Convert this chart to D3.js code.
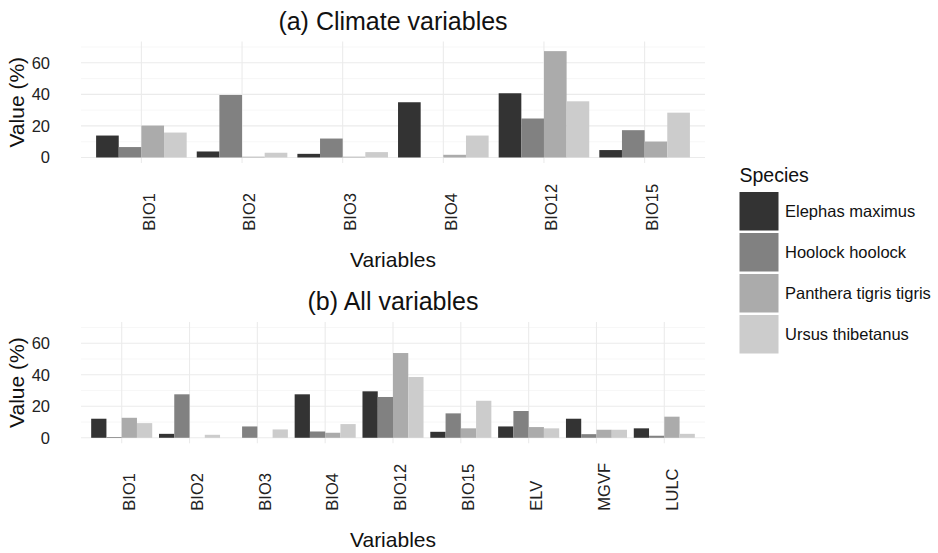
<!DOCTYPE html>
<html>
<head>
<meta charset="utf-8">
<script src="https://cdn.jsdelivr.net/npm/d3@7"></script>
<style>
  body { margin: 0; background: #fff; }
  svg text { font-family: "Liberation Sans", Arial, sans-serif; }
</style>
</head>
<body>
<div id="chart"></div>
<script>
// species + colours (grey scale, dark -> light)
const species = ["Elephas maximus", "Hoolock hoolock", "Panthera tigris tigris", "Ursus thibetanus"];
const speciesColors = ["#333333", "#818181", "#ababab", "#cccccc"];

// panel (a) climate variables
const climateVars = ["BIO1", "BIO2", "BIO3", "BIO4", "BIO12", "BIO15"];
const climateElephas = [13.9, 3.8, 2.3, 35.0, 40.7, 4.7];
const climateHoolock = [6.6, 39.6, 12.0, 0, 24.7, 17.3];
const climatePanthera = [20.2, 0.5, 0.5, 1.7, 67.4, 10.1];
const climateUrsus = [15.8, 3.0, 3.4, 13.9, 35.6, 28.4];

// panel (b) all variables
const allVars = ["BIO1", "BIO2", "BIO3", "BIO4", "BIO12", "BIO15", "ELV", "MGVF", "LULC"];
const allElephas = [12.1, 2.5, 0, 27.6, 29.5, 3.8, 7.2, 12.1, 6.0];
const allHoolock = [0.5, 27.6, 7.2, 4.0, 25.9, 15.5, 17.0, 2.3, 1.3];
const allPanthera = [12.7, 0, 0, 3.2, 53.8, 6.0, 6.8, 5.1, 13.4];
const allUrsus = [9.3, 1.9, 5.3, 8.7, 38.6, 23.5, 6.0, 5.1, 2.5];

const yMajor = [0, 20, 40, 60];
const yMinor = [10, 30, 50, 70];

const width = 938, height = 553;
const left = 81, right = 705;

const svg = d3.select("#chart").append("svg")
    .attr("width", width)
    .attr("height", height);

const panels = [
    { title: "(a) Climate variables", vars: climateVars,
      series: [climateElephas, climateHoolock, climatePanthera, climateUrsus],
      top: 41.5, bottom: 163, titleY: 29.5, tickY: 230.7, xlabY: 266.7 },
    { title: "(b) All variables", vars: allVars,
      series: [allElephas, allHoolock, allPanthera, allUrsus],
      top: 322, bottom: 443.3, titleY: 310, tickY: 510.7, xlabY: 546.7 }
];

panels.forEach(p => {
    const g = svg.append("g");

    const x = d3.scaleBand().domain(p.vars).range([left, right])
        .paddingInner(0.1).paddingOuter(0.15);
    const xs = d3.scaleBand().domain(species).range([0, x.bandwidth()]);
    const y = d3.scaleLinear().domain([-3.5, 73.5]).range([p.bottom, p.top]);

    // grid
    g.selectAll("line.minor").data(yMinor).enter().append("line")
        .attr("x1", left).attr("x2", right)
        .attr("y1", d => y(d)).attr("y2", d => y(d))
        .attr("stroke", "#f3f3f3").attr("stroke-width", 0.7);
    g.selectAll("line.major").data(yMajor).enter().append("line")
        .attr("x1", left).attr("x2", right)
        .attr("y1", d => y(d)).attr("y2", d => y(d))
        .attr("stroke", "#ebebeb").attr("stroke-width", 1.1);
    g.selectAll("line.vgrid").data(p.vars).enter().append("line")
        .attr("x1", d => x(d) + x.bandwidth() / 2).attr("x2", d => x(d) + x.bandwidth() / 2)
        .attr("y1", p.top).attr("y2", p.bottom)
        .attr("stroke", "#ebebeb").attr("stroke-width", 1.1);

    // bars
    const rows = [];
    p.vars.forEach((v, i) => {
        species.forEach((s, j) => rows.push({ v: v, s: s, j: j, value: p.series[j][i] }));
    });
    g.selectAll("rect.bar").data(rows.filter(d => d.value > 0)).enter().append("rect")
        .attr("class", "bar")
        .attr("x", d => x(d.v) + xs(d.s))
        .attr("width", xs.bandwidth())
        .attr("y", d => y(d.value))
        .attr("height", d => y(0) - y(d.value))
        .attr("fill", d => speciesColors[d.j]);

    // y axis labels
    const yAxis = d3.axisLeft(y).tickValues(yMajor).tickSize(0).tickPadding(0);
    const ya = g.append("g").attr("transform", "translate(50,0)").call(yAxis);
    ya.select(".domain").remove();
    ya.selectAll("text").attr("font-size", "16.5px").attr("fill", "#222")
        .style("font-family", "'Liberation Sans', Arial, sans-serif");

    // x tick labels (rotated)
    g.selectAll("text.xt").data(p.vars).enter().append("text")
        .attr("transform", d => `translate(${x(d) + x.bandwidth() / 2 + 13.3},${p.tickY}) rotate(-90)`)
        .attr("text-anchor", "start")
        .attr("font-size", "16.5px").attr("fill", "#222")
        .text(d => d);

    // titles
    g.append("text").attr("x", (left + right) / 2).attr("y", p.titleY)
        .attr("text-anchor", "middle").attr("font-size", "25px").attr("fill", "#111")
        .text(p.title);
    g.append("text").attr("x", (left + right) / 2).attr("y", p.xlabY)
        .attr("text-anchor", "middle").attr("font-size", "21px").attr("fill", "#111")
        .text("Variables");
    g.append("text")
        .attr("transform", `translate(23.5,${(p.top + p.bottom) / 2}) rotate(-90)`)
        .attr("text-anchor", "middle").attr("font-size", "21px").attr("fill", "#111")
        .text("Value (%)");
});

// legend
const legend = svg.append("g").attr("transform", "translate(739.5,0)");
legend.append("text").attr("x", 0).attr("y", 181.5)
    .attr("font-size", "19.5px").attr("fill", "#111").text("Species");
const item = legend.selectAll("g.item").data(species).enter().append("g")
    .attr("transform", (d, i) => `translate(0,${192 + i * 41})`);
item.append("rect").attr("width", 39).attr("height", 38.5)
    .attr("fill", (d, i) => speciesColors[i]);
item.append("text").attr("x", 45.5).attr("y", 19.25).attr("dy", "0.35em")
    .attr("font-size", "16.5px").attr("fill", "#111").text(d => d);
</script>
</body>
</html>
